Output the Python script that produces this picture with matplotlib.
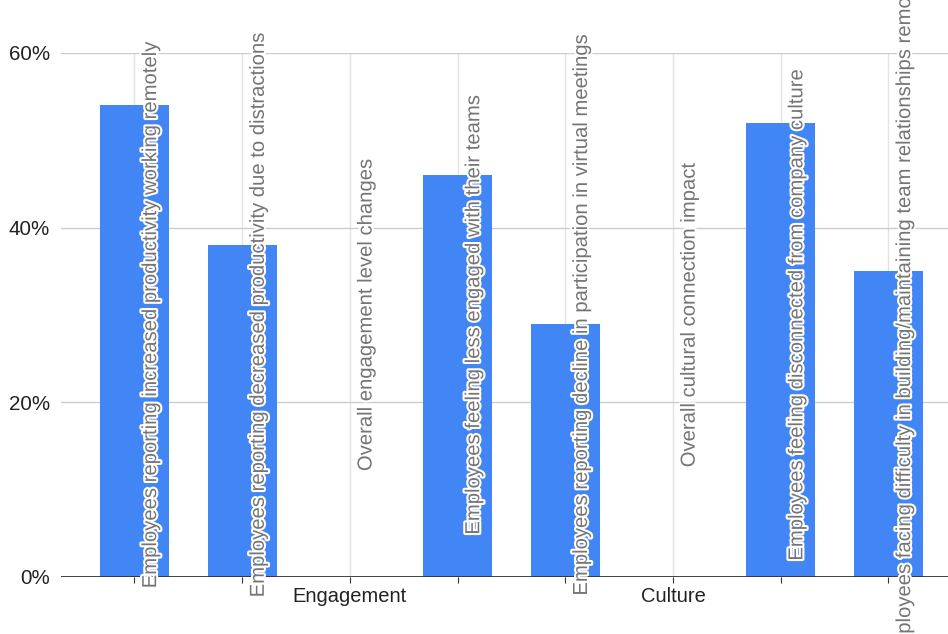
import numpy as np
import matplotlib.pyplot as plt
import matplotlib.patheffects as pe
import matplotlib.transforms as mtransforms

labels = [
    "Employees reporting increased productivity working remotely",
    "Employees reporting decreased productivity due to distractions",
    "Overall engagement level changes",
    "Employees feeling less engaged with their teams",
    "Employees reporting decline in participation in virtual meetings",
    "Overall cultural connection impact",
    "Employees feeling disconnected from company culture",
    "Employees facing difficulty in building/maintaining team relationships remotely",
]
values = [54, 38, 0, 46, 29, 0, 52, 35]
groups = ["Engagement", "Culture"]
group_pos = [2, 5]
yticks = [0, 20, 40, 60]

plt.rcParams["font.family"] = ["Liberation Sans", "DejaVu Sans"]

fig = plt.figure(figsize=(9.48, 6.34), dpi=100)
ax = fig.add_axes([61 / 948, 57 / 634, 887 / 948, 524 / 634])

x = np.arange(len(labels))
ax.bar(x, values, width=0.64, color="#4285f4", zorder=2)

ax.set_xlim(-0.682, 7.553)
ax.set_ylim(0, 60)

for xi in x:
    ax.axvline(xi, color="#e3e3e3", lw=1, zorder=0)
for yv in yticks[1:]:
    ax.axhline(yv, color="#cccccc", lw=1, zorder=0)
ax.axhline(0, color="#333333", lw=1.3, zorder=3)

ax.set_yticks(yticks)
ax.set_yticklabels([f"{v}%" for v in yticks], fontsize=14.8, color="#222222")
ax.tick_params(axis="y", length=0, pad=8)
ax.set_xticks(x)
ax.set_xticklabels([])
ax.tick_params(axis="x", length=4, color="#333333")
for s in ax.spines.values():
    s.set_visible(False)

# category names run vertically through the plot, centred on a fixed height
trans = mtransforms.blended_transform_factory(ax.transData, fig.transFigure)
for xi, lab in zip(x, labels):
    ax.text(xi + 0.15, 0.503, lab, transform=trans, rotation=90, ha="center",
            va="center", fontsize=14.6, color="#757575", clip_on=False,
            zorder=4,
            path_effects=[pe.withStroke(linewidth=3, foreground="white")])

for name, pos in zip(groups, group_pos):
    ax.text(pos, 37 / 634, name, transform=trans, ha="center", va="center",
            fontsize=14.5, color="#222222")

fig.savefig("out.png", dpi=100, facecolor="white")
